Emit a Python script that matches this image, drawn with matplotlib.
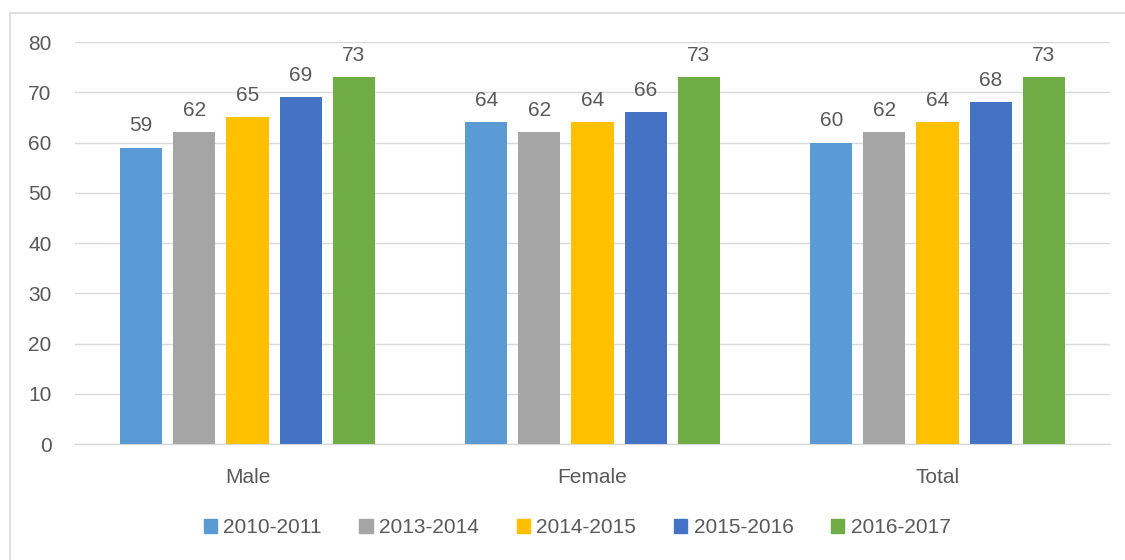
import numpy as np
import matplotlib.pyplot as plt
from matplotlib.patches import Rectangle, Patch

# data
groups = ["Male", "Female", "Total"]
years = ["2010-2011", "2013-2014", "2014-2015", "2015-2016", "2016-2017"]
v_2010 = [59, 64, 60]
v_2013 = [62, 62, 62]
v_2014 = [65, 64, 64]
v_2015 = [69, 66, 68]
v_2016 = [73, 73, 73]
series = [v_2010, v_2013, v_2014, v_2015, v_2016]
colors = ["#5B9BD5", "#A5A5A5", "#FFC000", "#4472C4", "#70AD47"]

plt.rcParams["font.family"] = ["Liberation Sans", "DejaVu Sans"]
TXT = "#595959"
FS = 15

fig = plt.figure(figsize=(11.25, 5.6), dpi=100)
ax = fig.add_axes([0.0667, 0.207, 0.92, 0.718])

x = np.arange(len(groups))
step = 0.154
width = 0.122
for i, (vals, c) in enumerate(zip(series, colors)):
    pos = x + (i - 2) * step
    bars = ax.bar(pos, vals, width, color=c, zorder=3)
    for b, v in zip(bars, vals):
        ax.text(b.get_x() + b.get_width() / 2, v + 2.5, str(v), ha="center", va="bottom",
                fontsize=FS, color=TXT)

ax.set_xlim(-0.5, 2.5)
ax.set_ylim(0, 80)
ax.set_yticks(range(0, 81, 10))
ax.set_xticks(x)
ax.set_xticklabels(groups)
ax.grid(axis="y", color="#D9D9D9", linewidth=1, zorder=0)
for s in ["top", "right", "left"]:
    ax.spines[s].set_visible(False)
ax.spines["bottom"].set_color("#D9D9D9")
ax.spines["bottom"].set_linewidth(1)
ax.tick_params(axis="both", length=0, labelsize=FS, colors=TXT)
ax.tick_params(axis="x", pad=17)
ax.tick_params(axis="y", pad=17)

handles = [Patch(color=c, label=y) for c, y in zip(colors, years)]
fig.legend(handles=handles, loc="center", bbox_to_anchor=(0.513, 0.058), ncol=5,
           frameon=False, fontsize=FS, labelcolor=TXT, handlelength=0.65,
           handleheight=0.65, handletextpad=0.3, columnspacing=1.8)

fig.patches.append(Rectangle((0.009, -0.1), 1.2, 1.077, transform=fig.transFigure,
                             fill=False, edgecolor="#D9D9D9", linewidth=1.2))

fig.savefig("out.png", dpi=100)
